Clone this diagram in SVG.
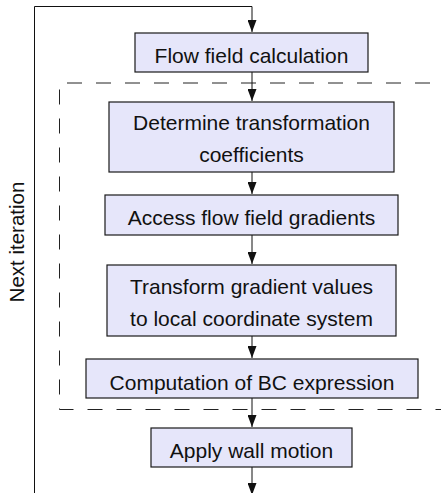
<svg xmlns="http://www.w3.org/2000/svg" width="441" height="493" viewBox="0 0 441 493">
  <style>
    .box { fill: #e6e6fa; stroke: #1a1a1a; stroke-width: 1.2; }
    .lbl { font-family: "Liberation Sans", Arial, sans-serif; font-size: 21px; fill: #111; text-anchor: middle; }
    .side { font-family: "Liberation Sans", Arial, sans-serif; font-size: 20.5px; fill: #111; text-anchor: middle; }
    .wire { fill: none; stroke: #111; stroke-width: 1; }
    .group { fill: none; stroke: #222; stroke-width: 1; stroke-dasharray: 15 14; }
  </style>
  <defs>
    <marker id="head" markerUnits="userSpaceOnUse" viewBox="0 0 12 9" markerWidth="12" markerHeight="9" refX="12" refY="4.5" orient="auto">
      <path d="M0,0 L12,4.5 L0,9 Z" fill="#111"/>
    </marker>
  </defs>

  <!-- dashed enclosure around the boundary-condition steps -->
  <path class="group" d="M459,83 L59.5,83 L59.5,409.5 L460,409.5"/>

  <!-- connectors -->
  <g id="connectors">
    <path class="wire" d="M34.5,493 L34.5,6.5 L252,6.5 L252,32" marker-end="url(#head)"/>
    <path class="wire" d="M252,72 L252,101" marker-end="url(#head)"/>
    <path class="wire" d="M252,172 L252,194" marker-end="url(#head)"/>
    <path class="wire" d="M252,235 L252,264" marker-end="url(#head)"/>
    <path class="wire" d="M252,336 L252,358" marker-end="url(#head)"/>
    <path class="wire" d="M252,398 L252,427" marker-end="url(#head)"/>
    <path class="wire" d="M252,467 L252,495" marker-end="url(#head)"/>
  </g>

  <text class="side" transform="translate(24,242) rotate(-90)">Next iteration</text>

  <g id="flow-field">
    <rect class="box" x="135" y="33" width="233" height="39"/>
    <text class="lbl" x="251.5" y="63">Flow field calculation</text>
  </g>

  <g id="coefficients">
    <rect class="box" x="109" y="102" width="285" height="70"/>
    <text class="lbl" x="251.5" y="130">Determine transformation</text>
    <text class="lbl" x="251.5" y="162">coefficients</text>
  </g>

  <g id="gradients">
    <rect class="box" x="105" y="195" width="293" height="40"/>
    <text class="lbl" x="251.5" y="225">Access flow field gradients</text>
  </g>

  <g id="transform">
    <rect class="box" x="107" y="265" width="289" height="71"/>
    <text class="lbl" x="251.5" y="294">Transform gradient values</text>
    <text class="lbl" x="251.5" y="326">to local coordinate system</text>
  </g>

  <g id="bc-expression">
    <rect class="box" x="86" y="359" width="332" height="39"/>
    <text class="lbl" x="252" y="390">Computation of BC expression</text>
  </g>

  <g id="wall-motion">
    <rect class="box" x="151" y="428" width="201" height="39"/>
    <text class="lbl" x="251.5" y="458">Apply wall motion</text>
  </g>
</svg>
